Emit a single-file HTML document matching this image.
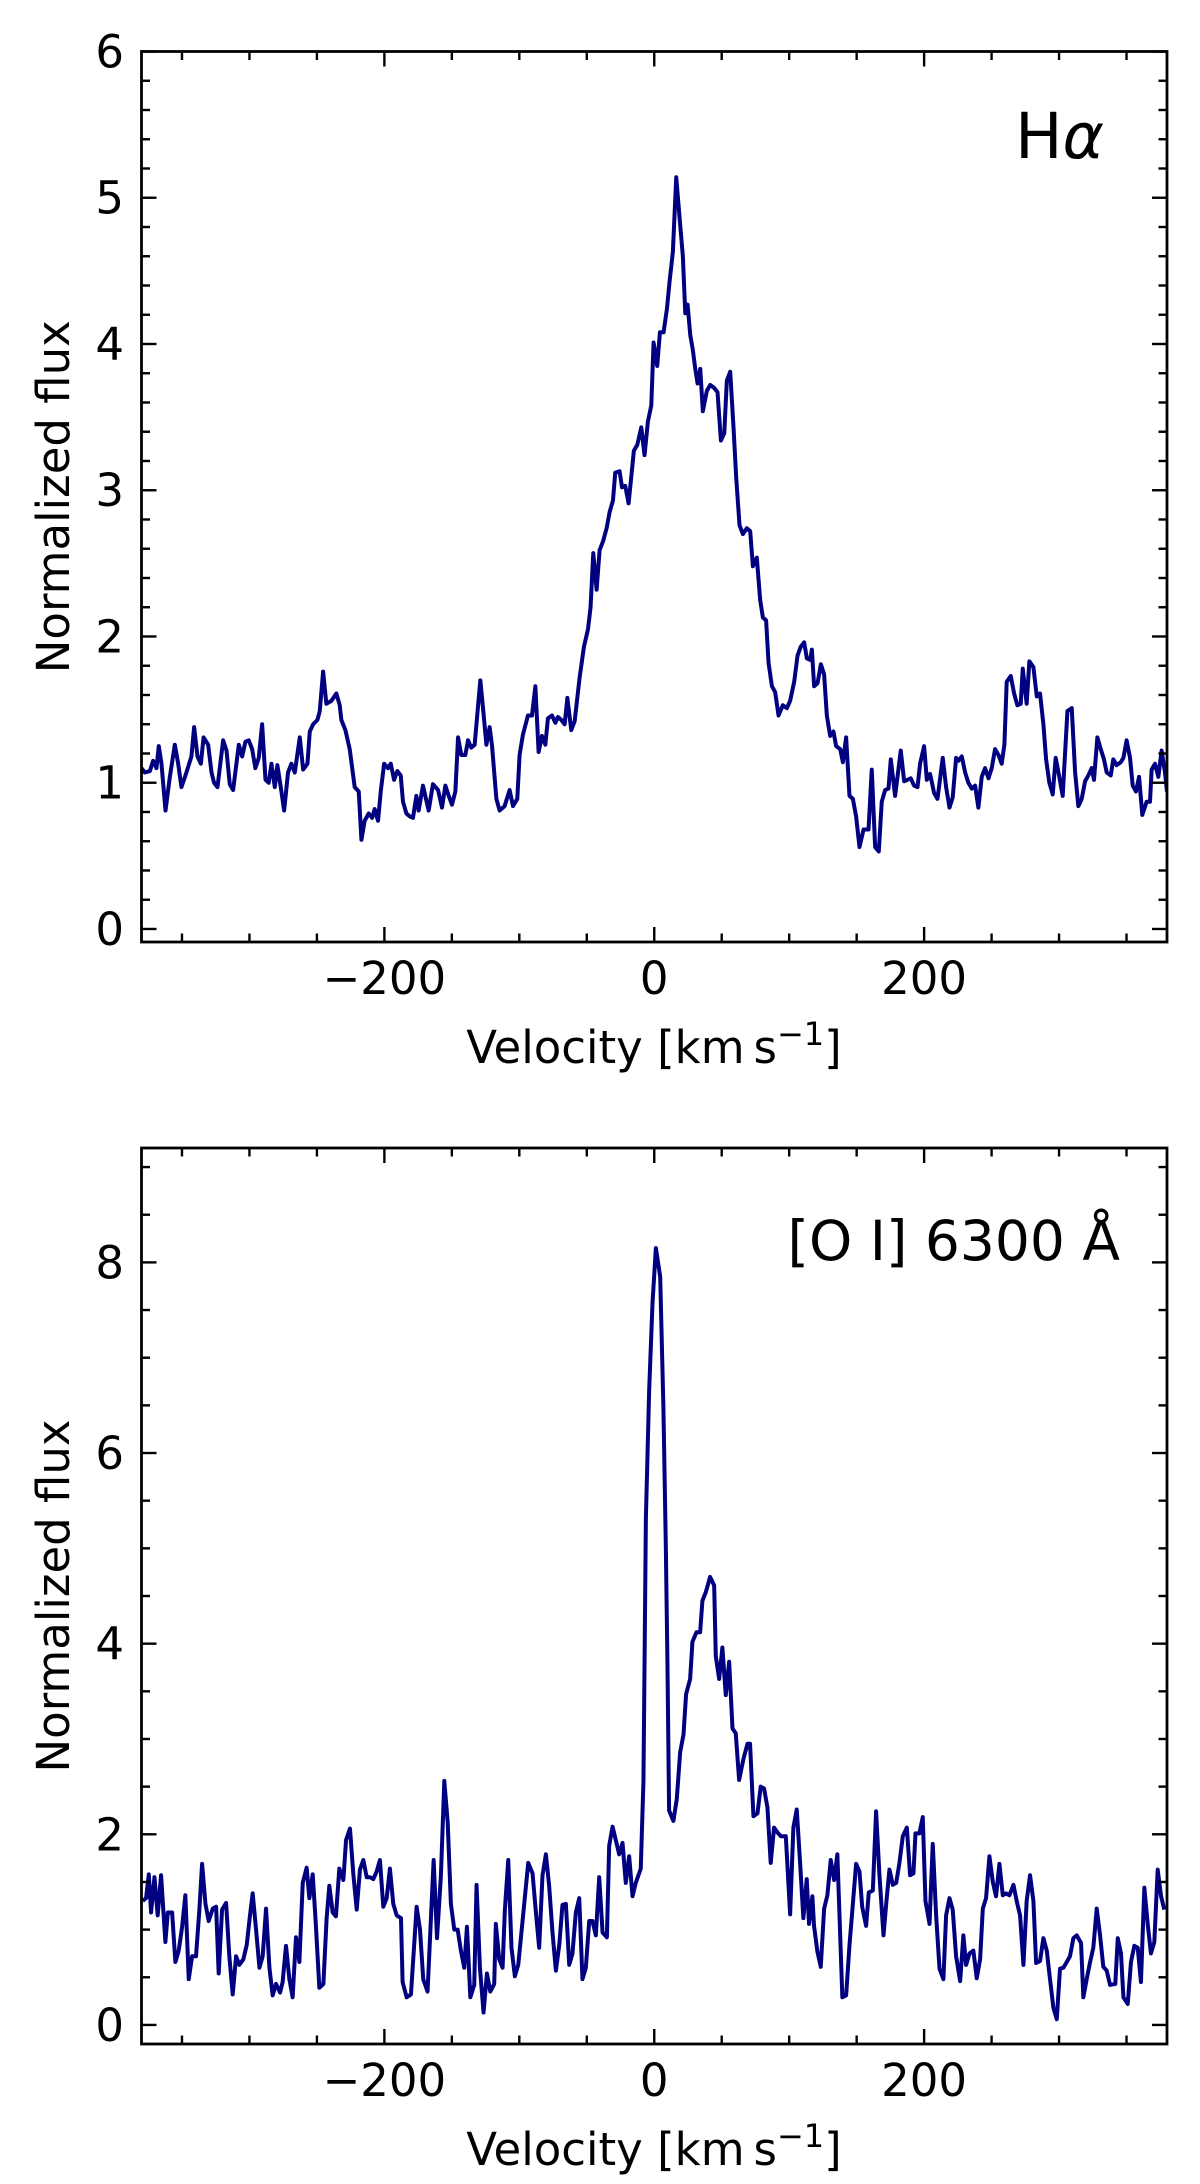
<!DOCTYPE html>
<html><head><meta charset="utf-8"><style>
html,body{margin:0;padding:0;background:#fff;}
svg{display:block;}
text{font-family:"DejaVu Sans","Liberation Sans",sans-serif;fill:#000;}
</style></head><body>
<svg id="fig" width="1200" height="2184" viewBox="0 0 1200 2184" xmlns="http://www.w3.org/2000/svg">
<rect x="0" y="0" width="1200" height="2184" fill="#fff"/>
<g id="p1"></g>
<g id="p2"></g>
</svg>
<script>
const haVel=[-380,-377.5,-373.8,-371.4,-368.9,-367.2,-365.2,-362.2,-359,-355.3,-352.8,-350.4,-346.7,-343,-341,-338.5,-336,-334,-330.6,-328.1,-326.2,-323.7,-319.5,-317,-314.6,-312.1,-307.9,-305.4,-303,-300.5,-298,-295.6,-293.1,-290.6,-288.1,-285.7,-283.7,-281.2,-279.3,-276.8,-274.3,-271.4,-268.9,-266.4,-262.7,-260.2,-257,-255.3,-252.8,-249.6,-247.9,-245.4,-243,-239.3,-235.6,-233.1,-231.9,-228.9,-225.7,-222,-219,-217,-214.6,-211.6,-209.1,-207.2,-204.7,-202.7,-200.2,-197.3,-195.3,-192.8,-190.4,-187.9,-186.2,-183.7,-181.2,-178.8,-176.3,-174.6,-171.4,-167.2,-164,-160.2,-157.3,-154.8,-152.3,-149.9,-147.4,-145.4,-143,-140,-138,-135.6,-133.1,-128.9,-126.9,-124.4,-122,-120.2,-117,-114.6,-110.9,-107.2,-104.7,-101.5,-99.8,-97.3,-93.6,-90.6,-88.1,-85.7,-83.2,-80.7,-78.8,-75.8,-73.3,-71.4,-68.9,-66.4,-64.4,-61.5,-59,-55.3,-52.1,-49.1,-47.2,-45.2,-42.7,-40.5,-38,-35.3,-33.1,-30.6,-28.9,-25.7,-23.9,-21.5,-19,-15.1,-12.6,-9.6,-7.2,-4.7,-2.2,-0.5,2.2,4.2,6.9,9.4,11.4,13.8,16.3,18.8,21.2,23,24.7,26.7,28.6,30.4,32.1,34.1,36,39,41.5,44.4,46.9,49.4,51.9,53.8,56.3,58.8,60.7,63.2,65.7,68.6,71.1,73.1,76,78.5,80.5,82.9,84.7,87.2,89.6,92.1,95.3,98.3,100.7,103.7,106.2,108.6,111.1,113.1,115.6,116.8,118.5,121,123.5,125.9,127.9,130.4,132.8,134.8,137.8,139.8,142.2,144.7,147.2,149.6,152.1,155.1,158.8,161.2,163.7,166.4,168.6,171.1,173.6,175.3,178.5,182.7,185.2,190.1,192.6,195.1,197,200,202,204.4,207.4,209.9,213.8,216.3,218.8,221.2,223.7,225.4,227.9,230.4,232.8,235.3,237.8,240.2,242.7,245.2,247.7,250.1,252.6,255.1,257.5,259.5,261.2,264.2,266.7,269.1,271.6,273.1,276,278,281,283.5,285.9,288.4,290.4,292.8,295.3,297.5,300.2,302.7,306.2,309.4,311.9,314.3,316.8,319.3,321.7,324.2,325.9,328.4,330.9,333.3,335.3,338.3,340.2,342.7,345.7,347.7,350.1,352.6,354.6,357,359.3,361.7,364.9,367.4,368.6,371.1,373.6,376,378.5,380];
const haFlux=[1.10,1.07,1.08,1.15,1.10,1.25,1.13,0.81,1.04,1.26,1.13,0.97,1.07,1.18,1.38,1.18,1.13,1.31,1.26,1.07,1.00,0.97,1.29,1.22,0.99,0.95,1.26,1.18,1.28,1.29,1.23,1.10,1.17,1.40,1.02,1.00,1.13,0.97,1.12,0.97,0.81,1.07,1.13,1.07,1.31,1.09,1.13,1.35,1.40,1.43,1.49,1.76,1.54,1.56,1.61,1.53,1.43,1.36,1.23,0.97,0.94,0.61,0.74,0.79,0.76,0.82,0.74,0.94,1.13,1.10,1.13,1.02,1.08,1.05,0.87,0.79,0.77,0.76,0.91,0.81,0.98,0.81,0.99,0.95,0.83,0.98,0.91,0.85,0.94,1.31,1.19,1.19,1.29,1.24,1.26,1.70,1.51,1.26,1.38,1.25,0.89,0.81,0.84,0.95,0.84,0.89,1.19,1.33,1.46,1.46,1.66,1.21,1.32,1.26,1.44,1.46,1.41,1.45,1.43,1.40,1.58,1.36,1.42,1.72,1.93,2.05,2.20,2.57,2.32,2.59,2.65,2.74,2.85,2.93,3.12,3.13,3.02,3.03,2.91,3.27,3.31,3.43,3.24,3.47,3.58,4.01,3.85,4.08,4.08,4.24,4.43,4.63,5.14,4.86,4.60,4.21,4.27,4.06,3.96,3.83,3.73,3.83,3.54,3.68,3.72,3.70,3.67,3.34,3.39,3.75,3.81,3.42,3.09,2.76,2.70,2.74,2.72,2.48,2.54,2.25,2.13,2.11,1.82,1.66,1.62,1.46,1.53,1.51,1.56,1.69,1.87,1.93,1.96,1.85,1.84,1.91,1.66,1.68,1.81,1.74,1.46,1.32,1.35,1.25,1.23,1.14,1.31,0.91,0.89,0.77,0.56,0.68,0.68,1.09,0.56,0.53,0.87,0.95,0.96,1.16,0.91,1.22,1.01,1.03,0.98,0.97,1.13,1.25,1.02,1.06,0.93,0.89,1.17,0.97,0.83,0.90,1.17,1.15,1.18,1.07,1.00,0.96,0.98,0.83,1.04,1.10,1.03,1.10,1.23,1.19,1.13,1.26,1.69,1.73,1.61,1.53,1.54,1.78,1.54,1.83,1.79,1.59,1.61,1.40,1.16,1.00,0.92,1.17,1.04,0.91,1.49,1.51,1.07,0.84,0.89,1.01,1.05,1.10,1.02,1.31,1.23,1.16,1.07,1.05,1.16,1.12,1.14,1.17,1.29,1.17,0.98,0.94,1.04,0.78,0.87,0.87,1.09,1.13,1.04,1.22,1.07,0.94];
const oiVel=[-379.1,-376.6,-374.6,-372.9,-370.4,-368,-365.5,-362.3,-360.5,-357.3,-354.9,-352.4,-349.9,-347.5,-345,-342.5,-339.6,-337.1,-335.1,-332.6,-330.2,-327.2,-324.7,-322.8,-320.3,-317.3,-314.9,-312.4,-309.9,-307.5,-304.5,-302,-299.6,-297.6,-295.1,-292.6,-290.2,-287.7,-285.2,-282.8,-280.3,-277.3,-275.4,-272.9,-270.4,-268,-265.5,-263,-260.5,-257.6,-255.6,-253.1,-250.7,-248.2,-245.2,-242.8,-240.8,-238.3,-235.9,-233.4,-230.4,-228.4,-225.5,-223,-220.5,-218.1,-215.6,-213.1,-210.7,-208.2,-205.7,-203.3,-200.8,-198.3,-195.9,-193.4,-190.9,-187.7,-186.5,-183.5,-180.3,-176.1,-173.6,-171.2,-168,-163.5,-161,-158.1,-155.6,-153.1,-150.7,-148.2,-145.7,-143.3,-140.8,-138.8,-136.3,-133.4,-131.7,-129.2,-126.5,-124,-121.5,-118.6,-117.4,-114.9,-112.4,-110.7,-108.2,-105.8,-103.3,-100.8,-97.6,-93.4,-90.2,-87.7,-85.3,-82.8,-80.3,-77.9,-75.4,-72.9,-70.4,-68,-65.5,-63,-60.6,-58.1,-55.6,-53.2,-50.7,-48.2,-45.8,-43.3,-40.8,-38.3,-35.1,-33.4,-30.9,-28.5,-26,-23.5,-21.1,-18.6,-16.1,-13.7,-10,-8,-6.2,-3.8,-1.3,1.2,4.4,6.8,8.6,9.8,11,14.2,16.7,19.2,21.7,23.6,26.6,28.3,31.3,34,35.7,38.2,41.4,44.4,45.6,48.1,50.5,53,55.5,58,60.4,62.9,66.1,69.1,71,73.5,76.5,78.9,81.4,83.9,86.3,88.8,91.3,93.8,97.5,100.7,103.1,105.6,108.1,110.5,113,114.7,117.2,118.4,120.9,123.4,125.9,128.3,130.8,133.3,135.7,139.4,142.2,144.7,147.2,149.6,152.1,154.1,157,159,162,164.4,166.9,169.9,171.9,174.3,176.8,179.3,181.7,184.2,187.2,189.6,192.1,193.6,196.5,199,201,204,206.4,208.9,211.4,214.3,216.3,218.8,221.2,223.7,226.7,229.1,231.1,233.6,236.5,239,241.5,243.5,245.9,248.4,250.9,253.3,255.8,258.3,260.7,263.2,266.2,268.6,271.1,273.6,276,278.5,281,283,285.9,288.4,290.9,293.3,295.8,298.3,300.7,303.2,305.7,308.1,310.6,313.1,316.3,318,320.5,323,325.4,327.9,330.4,332.8,335.3,337.8,341.7,343.5,345.9,347.7,350.9,353.3,355.8,358.3,360.7,363.2,365.7,368.1,370.6,373.1,375.6,378];
const oiFlux=[1.30,1.33,1.58,1.18,1.55,1.15,1.57,0.87,1.18,1.18,0.66,0.78,1.03,1.36,0.48,0.72,0.72,1.21,1.69,1.27,1.09,1.22,1.24,0.54,1.21,1.28,0.72,0.32,0.72,0.63,0.69,0.84,1.15,1.38,1.00,0.60,0.72,1.22,0.60,0.31,0.43,0.34,0.45,0.83,0.48,0.29,0.92,0.66,1.49,1.65,1.33,1.58,1.03,0.39,0.43,1.12,1.46,1.18,1.14,1.64,1.52,1.94,2.06,1.58,1.21,1.63,1.73,1.55,1.55,1.53,1.61,1.73,1.24,1.33,1.64,1.27,1.15,1.12,0.45,0.29,0.32,1.24,1.00,0.48,0.35,1.73,0.91,1.57,2.56,2.13,1.27,1.00,1.00,0.78,0.60,1.03,0.29,0.42,1.47,0.60,0.13,0.54,0.35,0.43,1.06,0.69,0.60,1.21,1.73,0.81,0.51,0.63,1.09,1.70,1.59,1.18,0.81,1.57,1.79,1.46,0.97,0.57,0.84,1.26,1.27,0.63,0.75,1.18,1.33,0.48,0.60,1.09,1.09,0.94,1.55,0.97,0.92,1.88,2.08,1.94,1.79,1.91,1.49,1.77,1.35,1.49,1.64,2.56,5.31,6.65,7.57,8.15,7.85,6.47,5.00,3.78,2.25,2.14,2.37,2.86,3.05,3.47,3.63,4.02,4.12,4.12,4.45,4.54,4.70,4.61,3.87,3.63,3.96,3.46,3.81,3.11,3.06,2.57,2.79,2.95,2.95,2.19,2.22,2.50,2.48,2.28,1.70,2.07,2.02,1.98,1.98,1.16,2.07,2.26,1.70,1.12,1.53,1.06,1.35,1.04,0.77,0.61,1.22,1.36,1.73,1.52,1.79,0.29,0.31,0.84,1.27,1.69,1.61,1.24,1.04,1.39,1.41,2.24,1.57,0.94,1.27,1.63,1.47,1.49,1.70,1.98,2.07,1.57,1.59,2.01,2.01,2.18,1.30,1.06,1.90,1.15,0.59,0.48,1.15,1.33,1.21,0.72,0.46,0.94,0.63,0.75,0.78,0.49,0.69,1.22,1.33,1.77,1.50,1.35,1.69,1.36,1.38,1.36,1.47,1.30,1.15,0.63,1.30,1.57,1.30,0.65,0.67,0.91,0.78,0.48,0.18,0.06,0.59,0.60,0.66,0.72,0.91,0.94,0.86,0.29,0.48,0.66,0.81,1.22,0.94,0.61,0.57,0.42,0.43,0.91,0.75,0.29,0.22,0.66,0.83,0.81,0.45,1.44,1.06,0.75,0.87,1.63,1.35,1.21];
const xMajorTicks=[-200,0,200];
const xTickLabels=["\u2212200","0","200"];
const haYTicks=[0,1,2,3,4,5,6];
const oiYTicks=[0,2,4,6,8];

const NS="http://www.w3.org/2000/svg";
function mk(tag,attrs,parent){const e=document.createElementNS(NS,tag);for(const k in attrs)e.setAttribute(k,attrs[k]);parent.appendChild(e);return e;}

function panel(g,id,top,bottom,ymin,ymax,yMaj,yMinStep,vel,flux){
  const L=141.5,R=1167,xmin=-380,xmax=380;
  const sx=v=>L+(v-xmin)/(xmax-xmin)*(R-L);
  const sy=f=>bottom-(f-ymin)/(ymax-ymin)*(bottom-top);
  const cp=mk('clipPath',{id:'clip'+id},g);
  mk('rect',{x:L,y:top,width:R-L,height:bottom-top},cp);
  let d='';
  for(let i=0;i<vel.length;i++){d+=(i?'L':'M')+sx(vel[i]).toFixed(2)+','+sy(flux[i]).toFixed(2);}
  const line=mk('path',{d:d,fill:'none',stroke:'#000080','stroke-width':4,'stroke-linejoin':'round','clip-path':'url(#clip'+id+')'},g);
  
  
  const tg=mk('g',{stroke:'#000','stroke-width':2.4},g);
  
  
  for(let v=-350;v<=350;v+=50){
    const maj=xMajorTicks.indexOf(v)>=0, len=maj?15:8.5, x=sx(v);
    mk('line',{x1:x,x2:x,y1:bottom,y2:bottom-len},tg);
    mk('line',{x1:x,x2:x,y1:top,y2:top+len},tg);
  }
  for(let k=Math.ceil(ymin/yMinStep);k*yMinStep<=ymax+1e-9;k++){
    const f=+(k*yMinStep).toFixed(4), maj=yMaj.indexOf(f)>=0, len=maj?15:8.5, y=sy(f);
    mk('line',{x1:L,x2:L+len,y1:y,y2:y},tg);
    mk('line',{x1:R,x2:R-len,y1:y,y2:y},tg);
  }
  const fr=mk('rect',{x:L,y:top,width:R-L,height:bottom-top,fill:'none',stroke:'#000','stroke-width':2.8},g);
  
  
  xMajorTicks.forEach((v,i)=>{
    const t=mk('text',{x:sx(v),y:bottom+52,'text-anchor':'middle','font-size':45},g);
    t.textContent=xTickLabels[i];
    
    
  });
  yMaj.forEach(f=>{
    const t=mk('text',{x:124,y:sy(f)+16,'text-anchor':'end','font-size':45},g);
    t.textContent=String(f);
    
    
  });
  const xl=mk('text',{x:654,y:bottom+121,'text-anchor':'middle','font-size':45},g);
  xl.innerHTML='Velocity [km\u2009s<tspan dy="-18" font-size="32">\u22121</tspan><tspan dy="18">]</tspan>';
  
  
  const cy=(top+bottom)/2;
  const yl=mk('text',{x:69,y:cy,'text-anchor':'middle','font-size':45,transform:'rotate(-90 69 '+cy+')'},g);
  yl.textContent='Normalized flux';
  
  
}

const p1=document.getElementById('p1'), p2=document.getElementById('p2');
panel(p1,'1',51.5,942,-0.089,6,haYTicks,0.2,haVel,haFlux);
panel(p2,'2',1148,2044,-0.2,9.2,oiYTicks,0.5,oiVel,oiFlux);

const t1=mk('text',{x:1104,y:158,'text-anchor':'end','font-size':63},p1);
t1.innerHTML='H<tspan font-style="italic">\u03b1</tspan>';


const t2=mk('text',{x:1120,y:1260,'text-anchor':'end','font-size':55},p2);
t2.textContent='[O I] 6300 \u00c5';


</script>
</body></html>
